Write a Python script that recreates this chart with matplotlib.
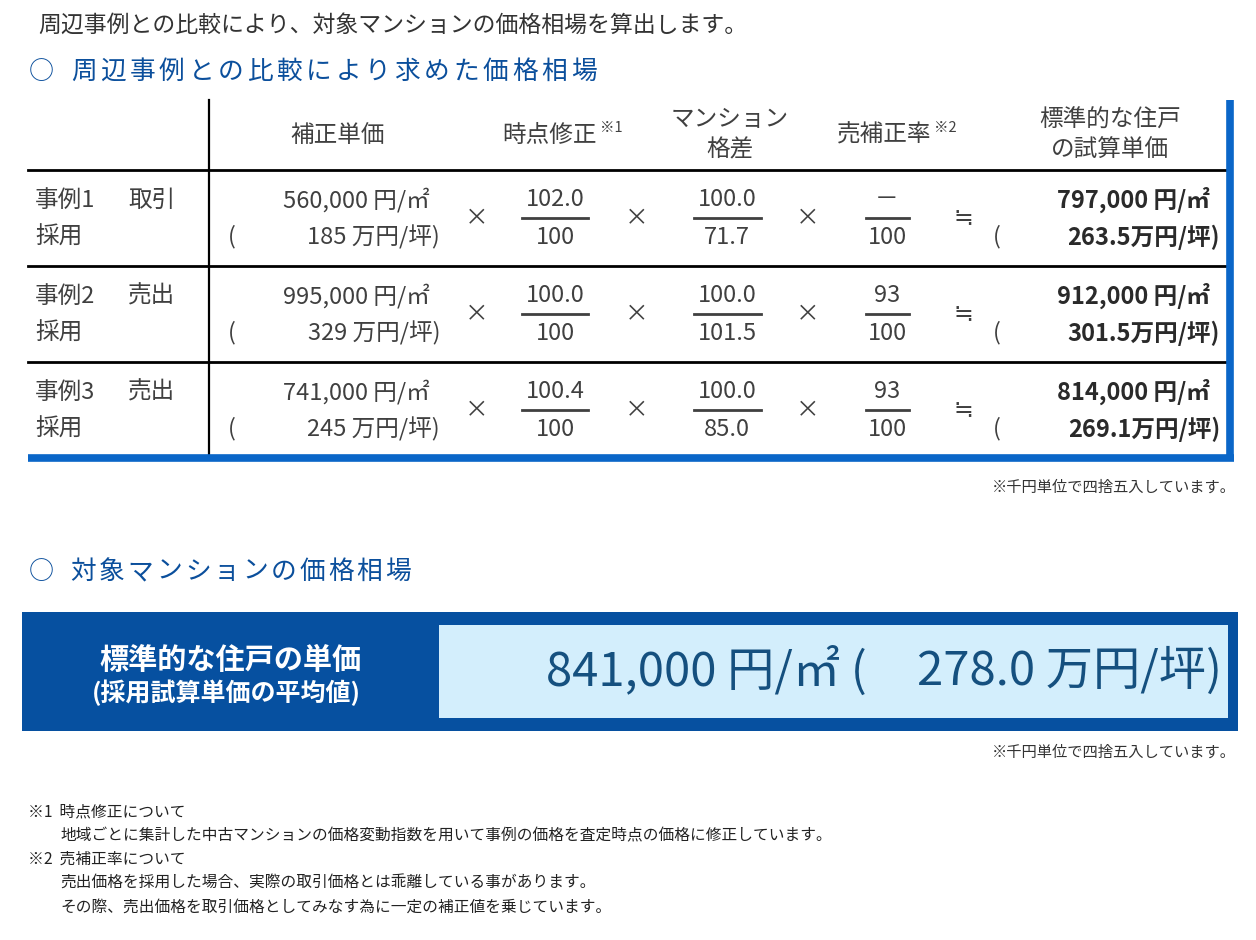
import matplotlib.pyplot as plt

plt.rcParams['font.family'] = ['Noto Sans CJK JP', 'DejaVu Sans']

# data
cases = ['事例1', '事例2', '事例3']
kinds = ['取引', '売出', '売出']
adopted = ['採用', '採用', '採用']
price_m2 = [560000, 995000, 741000]
price_tsubo = [185, 329, 245]
time_num = ['102.0', '100.0', '100.4']
time_den = ['100', '100', '100']
mansion_num = ['100.0', '100.0', '100.0']
mansion_den = ['71.7', '101.5', '85.0']
sale_num = ['－', '93', '93']
sale_den = ['100', '100', '100']
result_m2 = [797000, 912000, 814000]
result_tsubo = [263.5, 301.5, 269.1]
avg_m2 = 841000
avg_tsubo = 278.0

intro = '周辺事例との比較により、対象マンションの価格相場を算出します。'
title1 = '周辺事例との比較により求めた価格相場'
title2 = '対象マンションの価格相場'
note = '※千円単位で四捨五入しています。'
footnotes = [
    (28, '※1  時点修正について'),
    (60, '地域ごとに集計した中古マンションの価格変動指数を用いて事例の価格を査定時点の価格に修正しています。'),
    (28, '※2  売補正率について'),
    (60, '売出価格を採用した場合、実際の取引価格とは乖離している事があります。'),
    (60, 'その際、売出価格を取引価格としてみなす為に一定の補正値を乗じています。'),
]

GRAY = '#404040'
DARK = '#2a2a2a'
TITLE_BLUE = '#0b4f9c'
LINE_BLUE = '#0a66c8'
BOX_BLUE = '#0650a0'
LIGHT = '#d3eefc'
BIG = '#15507f'

fig = plt.figure(figsize=(12.56, 9.40), dpi=100)
ax = fig.add_axes([0, 0, 1, 1])
ax.set_xlim(0, 1256)
ax.set_ylim(940, 0)
ax.axis('off')


def t(x, y, s, size=17, color=GRAY, ha='left', weight='normal'):
    ax.text(x, y, s, fontsize=size, color=color, ha=ha, va='center', weight=weight)


def spaced(x, y, s, step, **kw):
    # letter-spaced heading, one glyph at a time
    for k, ch in enumerate(s):
        t(x + step * k + step / 2, y, ch, ha='center', **kw)


# headings
t(38, 25, intro, size=16.5, color='#333333')
t(29, 72, '○', size=18, color=TITLE_BLUE)
spaced(69, 72, title1, 29.4, size=18.5, color=TITLE_BLUE)

# table frame
ax.plot([209, 209], [100, 456], color='black', lw=1.6)
for yl in [170, 266, 362]:
    ax.plot([28, 1228], [yl, yl], color='black', lw=2)
ax.plot([28, 1234], [458, 458], color=LINE_BLUE, lw=5.5, solid_capstyle='butt')
ax.plot([1230, 1230], [100, 461], color=LINE_BLUE, lw=5.5, solid_capstyle='butt')

# header
t(338, 135, '補正単価', ha='center')
t(597, 135, '時点修正', ha='right')
t(600, 128, '※1', size=10.5)
t(730, 120, 'マンション', ha='center')
t(730, 150, '格差', ha='center')
t(931, 135, '売補正率', ha='right')
t(934, 128, '※2', size=10.5)
t(1110, 120, '標準的な住戸', ha='center')
t(1110, 150, 'の試算単価', ha='center')


def fraction(cx, width, num, den, y1, y2):
    t(cx, y1, num, ha='center')
    t(cx, y2, den, ha='center')
    ym = (y1 + y2) / 2 - 1
    ax.plot([cx - width / 2, cx + width / 2], [ym, ym], color=GRAY, lw=2)


for i in range(len(cases)):
    top = 170 + 96 * i
    y1, y2 = top + 30, top + 67
    ym = (y1 + y2) / 2
    t(35, y1, cases[i])
    t(128, y1, kinds[i])
    t(35, y2, adopted[i])
    t(430, y1, f'{price_m2[i]:,} 円/㎡', ha='right')
    t(228, y2, '(')
    t(440, y2, f'{price_tsubo[i]} 万円/坪)', ha='right')
    t(477, ym, '×', ha='center')
    fraction(555, 66, time_num[i], time_den[i], y1, y2)
    t(637, ym, '×', ha='center')
    fraction(727, 67, mansion_num[i], mansion_den[i], y1, y2)
    t(808, ym, '×', ha='center')
    fraction(887, 43, sale_num[i], sale_den[i], y1, y2)
    t(963, ym, '≒', ha='center')
    t(993, y2, '(')
    t(1210, y1, f'{result_m2[i]:,} 円/㎡', ha='right', color=DARK, weight='bold')
    t(1220, y2, f'{result_tsubo[i]:.1f}万円/坪)', ha='right', color=DARK, weight='bold')

t(1236, 487, note, size=11, color='#333333', ha='right')

# average section
t(29, 572, '○', size=18, color=TITLE_BLUE)
spaced(69, 572, title2, 28.6, size=18.5, color=TITLE_BLUE)

ax.add_patch(plt.Rectangle((22, 612), 1216, 119, color=BOX_BLUE, lw=0))
ax.add_patch(plt.Rectangle((439, 625), 789, 93, color=LIGHT, lw=0))
t(230, 660, '標準的な住戸の単価', size=21, color='white', ha='center', weight='bold')
t(226, 693, '(採用試算単価の平均値)', size=18, color='white', ha='center', weight='bold')
t(546, 672, f'{avg_m2:,} 円/㎡ (', size=34, color=BIG)
t(1222, 672, f'{avg_tsubo:.1f} 万円/坪)', size=34, color=BIG, ha='right')

t(1236, 752, note, size=11, color='#333333', ha='right')

for k, (x, s) in enumerate(footnotes):
    t(x, 812 + 23.7 * k, s, size=11.3, color='#222222')

fig.savefig('out.png', dpi=100)
